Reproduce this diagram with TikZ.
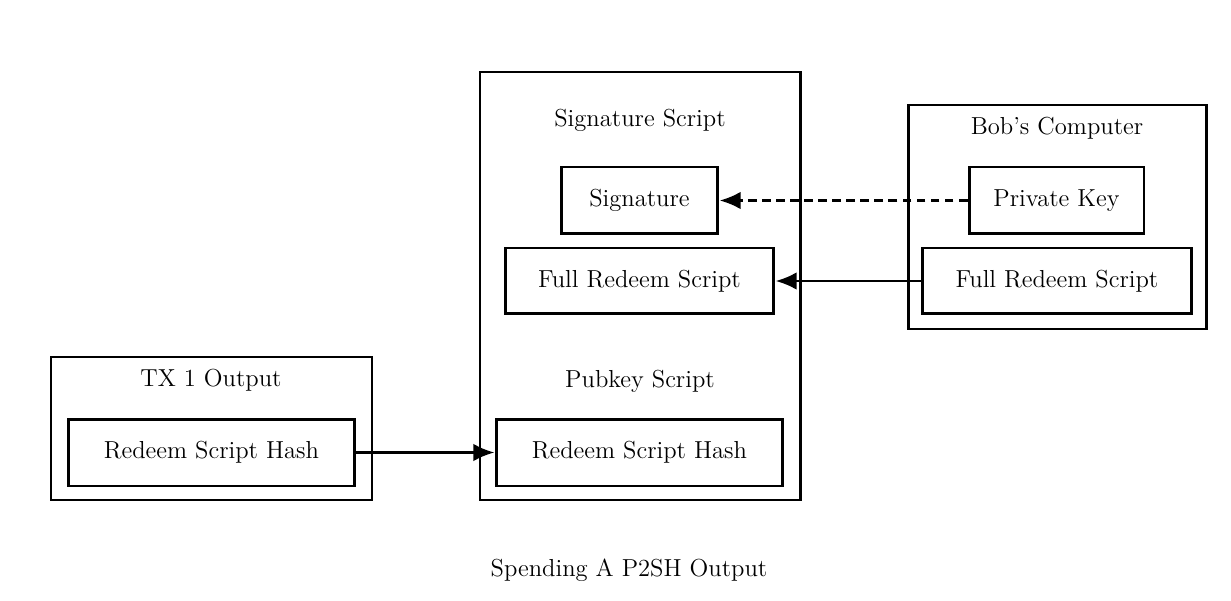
\documentclass[tikz,border=0pt]{standalone}
\usetikzlibrary{arrows.meta}
\tikzset{
  blk/.style={draw,line width=1.7pt,minimum height=1.34cm,inner sep=0pt,font=\fontsize{14}{16}\selectfont},
  frame/.style={draw,line width=1.7pt},
  lbl/.style={font=\fontsize{14}{16}\selectfont},
  link/.style={-{Latex[length=12pt,width=10pt]},line width=1.7pt}
}
\begin{document}
\begin{tikzpicture}[x=0.02cm,y=-0.02cm]
  \useasboundingbox (0,0) rectangle (1231,601);
  % outer frames
  \draw[frame] (480,72) rectangle (800,500);
  \draw[frame] (51,357) rectangle (372,500);
  \draw[frame] (908,105) rectangle (1206,329);
  \node[lbl] (sigscript) at (640,120) {Signature Script};
  \node[lbl] (pkscript) at (640,381) {Pubkey Script};
  \node[lbl] (tx1) at (211,380) {TX 1 Output};
  \node[lbl] (bob) at (1057,128) {Bob's Computer};
  % inner boxes
  \node[blk,minimum width=3.14cm] (sig) at (639.5,200.5) {Signature};
  \node[blk,minimum width=5.38cm,minimum height=1.32cm] (frsM) at (639.5,281) {Full Redeem Script};
  \node[blk,minimum width=5.74cm] (rshM) at (639.5,452.5) {Redeem Script Hash};
  \node[blk,minimum width=5.74cm] (rshL) at (211.5,452.5) {Redeem Script Hash};
  \node[blk,minimum width=3.5cm] (key) at (1056.5,200.5) {Private Key};
  \node[blk,minimum width=5.4cm,minimum height=1.32cm] (frsR) at (1057,281) {Full Redeem Script};
  % connectors
  \draw[link,dash pattern=on 5pt off 3pt] (key) -- (sig);
  \draw[link] (frsR) -- (frsM);
  \draw[link] (rshL) -- (rshM);
  \node[lbl] (cap) at (629,570) {Spending A P2SH Output};
\end{tikzpicture}
\end{document}
